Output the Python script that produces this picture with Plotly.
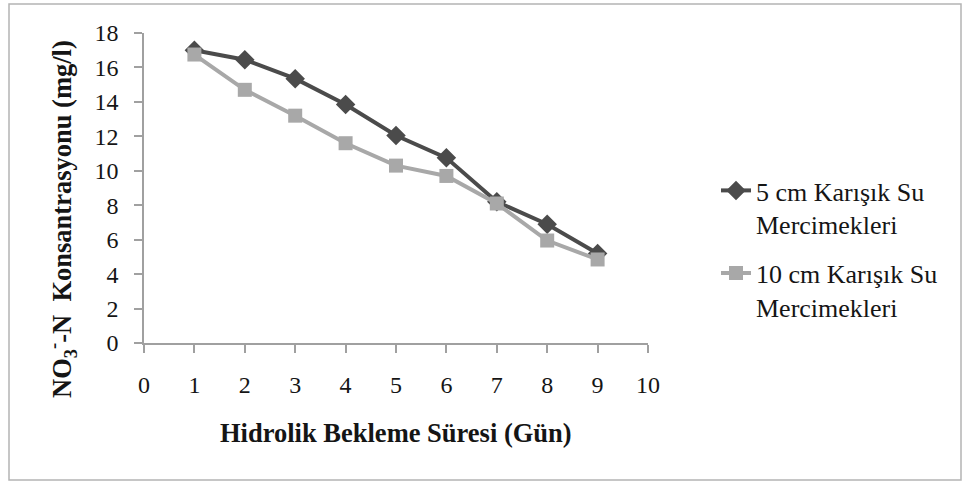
import plotly.graph_objects as go

# Hydraulic retention time (days) and nitrate-N concentration (mg/l)
days = [1, 2, 3, 4, 5, 6, 7, 8, 9]
five_cm = [17.0, 16.45, 15.35, 13.85, 12.05, 10.75, 8.2, 6.9, 5.2]
ten_cm = [16.75, 14.7, 13.2, 11.6, 10.3, 9.7, 8.1, 5.95, 4.85]

series_names = ["5 cm Karışık Su<br>Mercimekleri", "10 cm Karışık Su<br>Mercimekleri"]
x_ticks = list(range(0, 11))
y_ticks = list(range(0, 19, 2))

W, H = 962, 481
L, R, T, B = 144, 648, 33, 343  # plot area in pixels


def px_x(px):
    return (px - L) / (R - L)


def px_y(py):
    return (B - py) / (B - T)


FONT = "Liberation Serif, Times New Roman, serif"
TXT = "#151515"
DARK = "#4b4b4b"
LIGHT = "#a8a8a8"
AXIS = "#a0a0a0"

fig = go.Figure()
fig.add_trace(go.Scatter(
    x=days, y=five_cm, name=series_names[0], mode="lines+markers",
    legendgroup="g5",
    line=dict(color=DARK, width=4),
    marker=dict(symbol="diamond", size=15, color=DARK),
))
fig.add_trace(go.Scatter(
    x=days, y=ten_cm, name=series_names[1], mode="lines+markers",
    legendgroup="g10",
    line=dict(color=LIGHT, width=4),
    marker=dict(symbol="square", size=14, color=LIGHT),
))

fig.update_layout(
    width=W, height=H,
    margin=dict(l=L, r=W - R, t=T, b=H - B),
    paper_bgcolor="white", plot_bgcolor="white",
    font=dict(family=FONT, size=24, color=TXT),
    legend=dict(
        x=px_x(716), y=px_y(167), xanchor="left", yanchor="top",
        valign="top", tracegroupgap=12,
        font=dict(family=FONT, size=26, color=TXT),
        bgcolor="rgba(0,0,0,0)",
    ),
    xaxis=dict(
        range=[0, 10], tickvals=x_ticks, ticktext=[str(v) for v in x_ticks],
        showline=True, linecolor=AXIS, linewidth=1.5,
        ticks="outside", ticklen=8, tickcolor=AXIS, tickwidth=1.5,
        showgrid=False, zeroline=False, ticklabelstandoff=11,
        tickfont=dict(family=FONT, size=24, color=TXT),
    ),
    yaxis=dict(
        range=[0, 18], tickvals=y_ticks, ticktext=[str(v) for v in y_ticks],
        showline=True, linecolor=AXIS, linewidth=1.5,
        ticks="outside", ticklen=8, tickcolor=AXIS, tickwidth=1.5,
        showgrid=False, zeroline=False, ticklabelstandoff=11,
        tickfont=dict(family=FONT, size=24, color=TXT),
    ),
    annotations=[
        dict(
            text="<b>Hidrolik Bekleme Süresi (Gün)</b>",
            xref="paper", yref="paper", x=px_x(396), y=px_y(433),
            xanchor="center", yanchor="middle", showarrow=False,
            font=dict(family=FONT, size=26.5, color=TXT),
        ),
        dict(
            text="<b>NO<sub>3</sub><sup>-</sup>-N  Konsantrasyonu (mg/l)</b>",
            xref="paper", yref="paper", x=px_x(62), y=px_y(219),
            xanchor="center", yanchor="middle", showarrow=False, textangle=-90,
            font=dict(family=FONT, size=26.5, color=TXT),
        ),
    ],
    shapes=[
        dict(
            type="rect", xref="paper", yref="paper",
            x0=px_x(9), x1=px_x(961), y0=px_y(480), y1=px_y(4),
            line=dict(color="#b4b4b4", width=1.5), layer="below",
        ),
    ],
)

fig.write_html("out.html")
